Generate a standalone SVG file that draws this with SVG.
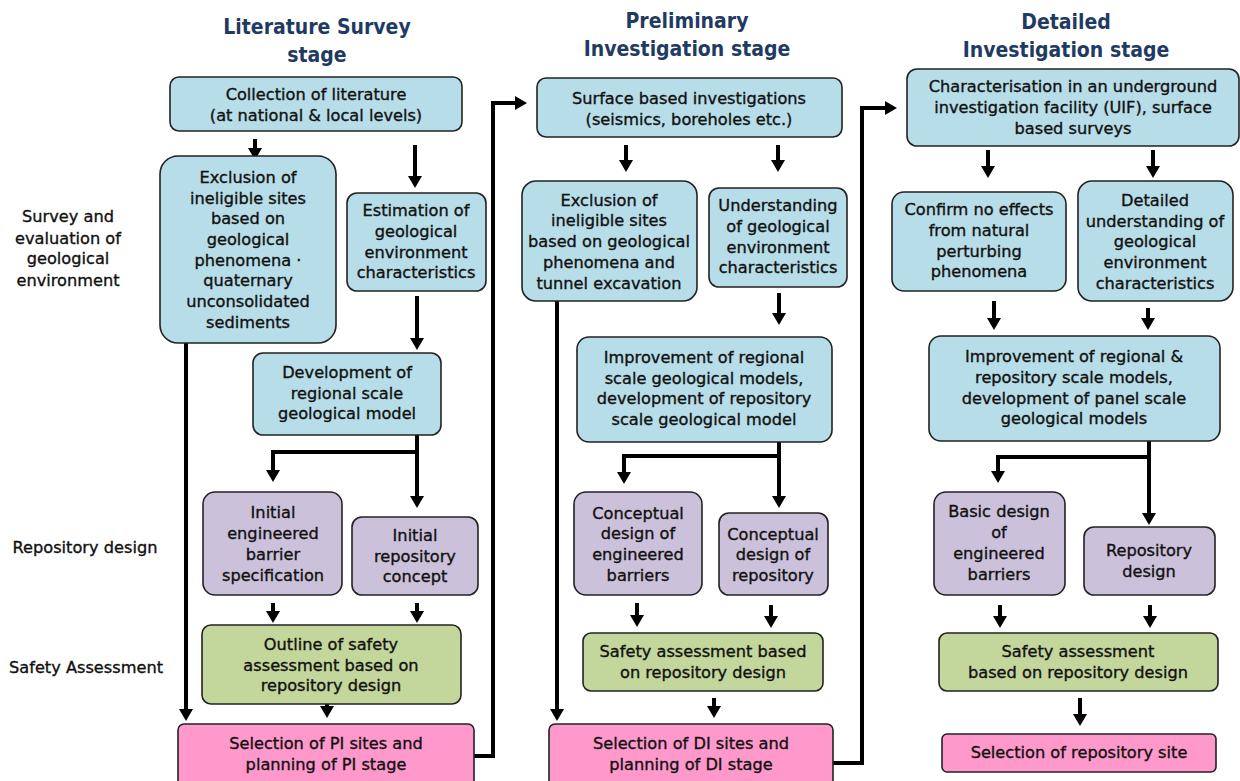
<svg xmlns="http://www.w3.org/2000/svg" width="1240" height="781" viewBox="0 0 1240 781">
<defs>
<style>
text{font-family:"DejaVu Sans","Noto Sans",sans-serif;font-size:16.2px;fill:#111;stroke:#111;stroke-width:0.35;text-anchor:middle}
.t{font-family:"DejaVu Sans Condensed","DejaVu Sans",sans-serif;font-stretch:condensed;font-size:21px;font-weight:bold;fill:#1f3b63;stroke:none}
.b{fill:#b7dde8;stroke:#222;stroke-width:1.6}
.p{fill:#ccc1da;stroke:#222;stroke-width:1.6}
.g{fill:#c3d69b;stroke:#222;stroke-width:1.6}
.k{fill:#ff99cc;stroke:#222;stroke-width:1.6}
.c{fill:none;stroke:#000;stroke-width:4;marker-end:url(#ah)}
</style>
<marker id="ah" viewBox="0 0 12 14" refX="6" refY="7" markerWidth="12" markerHeight="14" markerUnits="userSpaceOnUse" orient="auto"><path d="M0,0 L12,7 L0,14 z" fill="#000"/></marker>
</defs>
<rect width="1240" height="781" fill="#fff"/>

<g id="titles">
<text class="t" x="317" y="34">Literature Survey</text>
<text class="t" x="317" y="62">stage</text>
<text class="t" x="687" y="28">Preliminary</text>
<text class="t" x="687" y="56">Investigation stage</text>
<text class="t" x="1066" y="29">Detailed</text>
<text class="t" x="1066" y="57">Investigation stage</text>
</g>

<g id="row-labels">
<text x="68" y="222">Survey and</text>
<text x="68" y="244">evaluation of</text>
<text x="68" y="264">geological</text>
<text x="68" y="286">environment</text>
<text x="85" y="553">Repository design</text>
<text x="86" y="673">Safety Assessment</text>
</g>

<g id="connectors">
<line class="c" x1="255" y1="139" x2="255" y2="154"/>
<line class="c" x1="415" y1="145" x2="415" y2="182"/>
<line class="c" x1="417" y1="296" x2="417" y2="344"/>
<polyline class="c" points="417,435 417,502"/>
<polyline class="c" points="417,452 273,452 273,476"/>
<line class="c" x1="273" y1="603" x2="273" y2="617"/>
<line class="c" x1="417" y1="603" x2="417" y2="617"/>
<line class="c" x1="327" y1="698" x2="327" y2="712"/>
<line class="c" x1="186" y1="343" x2="186" y2="715"/>
<polyline class="c" points="474,756 493,756 493,103 521,103"/>

<line class="c" x1="626" y1="145" x2="626" y2="166"/>
<line class="c" x1="778" y1="145" x2="778" y2="166"/>
<line class="c" x1="779" y1="293" x2="779" y2="319"/>
<polyline class="c" points="779,442 779,502"/>
<polyline class="c" points="779,456 624,456 624,478"/>
<line class="c" x1="637" y1="603" x2="637" y2="621"/>
<line class="c" x1="771" y1="605" x2="771" y2="622"/>
<line class="c" x1="714" y1="698" x2="714" y2="712"/>
<line class="c" x1="557" y1="301" x2="557" y2="715"/>
<polyline class="c" points="833,763 862,763 862,108 891,108"/>

<line class="c" x1="988" y1="150" x2="988" y2="172"/>
<line class="c" x1="1153" y1="150" x2="1153" y2="172"/>
<line class="c" x1="994" y1="301" x2="994" y2="324"/>
<line class="c" x1="1148" y1="308" x2="1148" y2="324"/>
<polyline class="c" points="1149,441 1149,519"/>
<polyline class="c" points="1149,457 998,457 998,477"/>
<line class="c" x1="1000" y1="605" x2="1000" y2="622"/>
<line class="c" x1="1150" y1="605" x2="1150" y2="622"/>
<line class="c" x1="1080" y1="698" x2="1080" y2="720"/>
</g>

<g id="n1"><rect class="b" x="170" y="77" width="292" height="54" rx="9"/>
<text x="316" y="100">Collection of literature</text><text x="316" y="121">(at national &amp; local levels)</text></g>
<g id="n2"><rect class="b" x="160" y="156" width="176" height="187" rx="18"/>
<text x="248" y="183">Exclusion of</text><text x="248" y="204">ineligible sites</text><text x="248" y="224">based on</text><text x="248" y="245">geological</text><text x="248" y="266">phenomena ·</text><text x="248" y="286">quaternary</text><text x="248" y="307">unconsolidated</text><text x="248" y="328">sediments</text></g>
<g id="n3"><rect class="b" x="347" y="193" width="139" height="98" rx="10"/>
<text x="416" y="216">Estimation of</text><text x="416" y="237">geological</text><text x="416" y="258">environment</text><text x="416" y="278">characteristics</text></g>
<g id="n4"><rect class="b" x="253" y="353" width="188" height="82" rx="10"/>
<text x="347" y="378">Development of</text><text x="347" y="399">regional scale</text><text x="347" y="419">geological model</text></g>
<g id="n5"><rect class="p" x="203" y="492" width="139" height="103" rx="12"/>
<text x="273" y="518">Initial</text><text x="273" y="539">engineered</text><text x="273" y="560">barrier</text><text x="273" y="581">specification</text></g>
<g id="n6"><rect class="p" x="352" y="517" width="126" height="78" rx="10"/>
<text x="415" y="541">Initial</text><text x="415" y="562">repository</text><text x="415" y="582">concept</text></g>
<g id="n7"><rect class="g" x="202" y="625" width="259" height="79" rx="9"/>
<text x="331" y="650">Outline of safety</text><text x="331" y="671">assessment based on</text><text x="331" y="691">repository design</text></g>
<g id="n8"><rect class="k" x="178" y="724" width="296" height="64" rx="6"/>
<text x="326" y="749">Selection of PI sites and</text><text x="326" y="770">planning of PI stage</text></g>

<g id="n9"><rect class="b" x="537" y="78" width="305" height="59" rx="9"/>
<text x="689" y="104">Surface based investigations</text><text x="689" y="125">(seismics, boreholes etc.)</text></g>
<g id="n10"><rect class="b" x="522" y="181" width="175" height="120" rx="14"/>
<text x="609" y="206">Exclusion of</text><text x="609" y="226">ineligible sites</text><text x="609" y="247">based on geological</text><text x="609" y="268">phenomena and</text><text x="609" y="289">tunnel excavation</text></g>
<g id="n11"><rect class="b" x="709" y="188" width="138" height="99" rx="10"/>
<text x="778" y="211">Understanding</text><text x="778" y="232">of geological</text><text x="778" y="253">environment</text><text x="778" y="273">characteristics</text></g>
<g id="n12"><rect class="b" x="577" y="337" width="255" height="105" rx="12"/>
<text x="704" y="363">Improvement of regional</text><text x="704" y="384">scale geological models,</text><text x="704" y="404">development of repository</text><text x="704" y="425">scale geological model</text></g>
<g id="n13"><rect class="p" x="574" y="492" width="128" height="103" rx="12"/>
<text x="638" y="519">Conceptual</text><text x="638" y="539">design of</text><text x="638" y="560">engineered</text><text x="638" y="581">barriers</text></g>
<g id="n14"><rect class="p" x="719" y="513" width="109" height="82" rx="10"/>
<text x="773" y="540">Conceptual</text><text x="773" y="560">design of</text><text x="773" y="581">repository</text></g>
<g id="n15"><rect class="g" x="583" y="633" width="240" height="58" rx="8"/>
<text x="703" y="657">Safety assessment based</text><text x="703" y="678">on repository design</text></g>
<g id="n16"><rect class="k" x="549" y="724" width="284" height="64" rx="6"/>
<text x="691" y="749">Selection of DI sites and</text><text x="691" y="770">planning of DI stage</text></g>

<g id="n17"><rect class="b" x="907" y="69" width="332" height="77" rx="10"/>
<text x="1073" y="92">Characterisation in an underground</text><text x="1073" y="113">investigation facility (UIF), surface</text><text x="1073" y="134">based surveys</text></g>
<g id="n18"><rect class="b" x="892" y="192" width="174" height="99" rx="12"/>
<text x="979" y="215">Confirm no effects</text><text x="979" y="236">from natural</text><text x="979" y="257">perturbing</text><text x="979" y="277">phenomena</text></g>
<g id="n19"><rect class="b" x="1078" y="181" width="155" height="120" rx="14"/>
<text x="1155" y="206">Detailed</text><text x="1155" y="227">understanding of</text><text x="1155" y="247">geological</text><text x="1155" y="268">environment</text><text x="1155" y="289">characteristics</text></g>
<g id="n20"><rect class="b" x="929" y="336" width="291" height="105" rx="12"/>
<text x="1074" y="362">Improvement of regional &amp;</text><text x="1074" y="383">repository scale models,</text><text x="1074" y="404">development of panel scale</text><text x="1074" y="424">geological models</text></g>
<g id="n21"><rect class="p" x="934" y="492" width="131" height="103" rx="12"/>
<text x="999" y="517">Basic design</text><text x="999" y="538">of</text><text x="999" y="559">engineered</text><text x="999" y="580">barriers</text></g>
<g id="n22"><rect class="p" x="1084" y="527" width="131" height="68" rx="10"/>
<text x="1149" y="556">Repository</text><text x="1149" y="577">design</text></g>
<g id="n23"><rect class="g" x="939" y="633" width="279" height="58" rx="8"/>
<text x="1078" y="657">Safety assessment</text><text x="1078" y="678">based on repository design</text></g>
<g id="n24"><rect class="k" x="942" y="734" width="274" height="38" rx="5"/>
<text x="1079" y="758">Selection of repository site</text></g>
</svg>
